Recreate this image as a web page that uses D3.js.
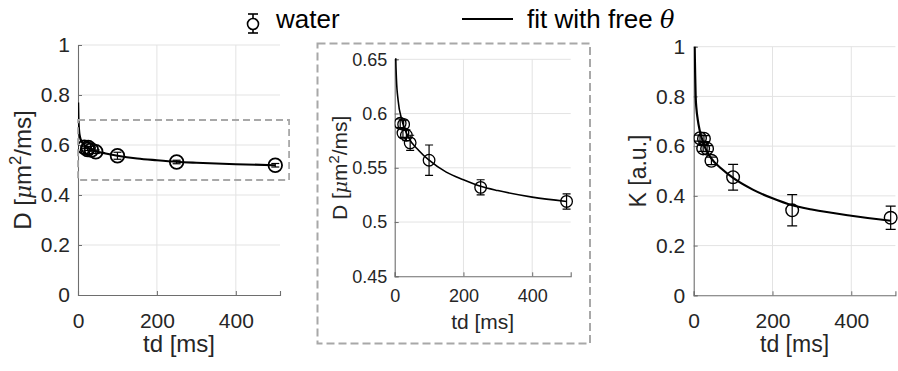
<!DOCTYPE html>
<html>
<head>
<meta charset="utf-8">
<script src="https://cdn.jsdelivr.net/npm/d3@7"></script>
<style>
  html, body { margin: 0; padding: 0; background: #fff; }
  svg { display: block; font-family: "Liberation Sans", Arial, sans-serif; }
</style>
</head>
<body>
<div id="chart"></div>
<script>
// measured diffusion time points (ms)
const td = [16, 24, 26, 34, 45, 100, 250, 500];
// water: diffusivity D and its error bars
const dValues = [0.591, 0.582, 0.590, 0.580, 0.573, 0.557, 0.532, 0.519];
const dErrors = [0.004, 0.004, 0.004, 0.005, 0.007, 0.014, 0.007, 0.007];
// water: kurtosis K and its error bars
const kValues = [0.632, 0.591, 0.630, 0.590, 0.541, 0.475, 0.342, 0.312];
const kErrors = [0.012, 0.012, 0.012, 0.012, 0.015, 0.052, 0.063, 0.047];

// fit with free theta, sampled off the figure
const fitTdD = [0.3, 1, 2, 3, 5, 10, 20, 40, 70, 100, 150, 200, 250, 300, 400, 500];
const fitD = [0.77, 0.71, 0.672, 0.652, 0.632, 0.612, 0.595, 0.578, 0.566, 0.557, 0.546, 0.539, 0.533, 0.529, 0.523, 0.519];
const fitTdK = [2.5, 3, 4, 5, 7, 10, 15, 20, 30, 45, 70, 100, 150, 200, 250, 300, 400, 500];
const fitK = [1.0, 0.95, 0.87, 0.80, 0.75, 0.71, 0.665, 0.635, 0.59, 0.55, 0.51, 0.472, 0.425, 0.39, 0.362, 0.345, 0.32, 0.30];

// zoom window drawn on the first panel
const zoomTd = [0, 535];
const zoomD = [0.46, 0.70];

const xTicks = [0, 200, 400];
const dTicksFull = [0, 0.2, 0.4, 0.6, 0.8, 1];
const dTicksZoom = [0.45, 0.5, 0.55, 0.6, 0.65];
const kTicks = [0, 0.2, 0.4, 0.6, 0.8, 1];

const legendLabels = ['water', 'fit with free '];

const W = 898, H = 371;
const ink = '#262626';
const axisGray = '#6e6e6e';
const gridGray = '#e3e3e3';

const svg = d3.select('#chart').append('svg')
  .attr('width', W)
  .attr('height', H);

const fmt = d => (d === 0 || d === 1) ? String(d) : String(+d.toFixed(2));

const panels = [
  {
    key: 'd-full', left: 78, right: 280, bottom: 295, top: 45,
    yDomain: [0, 1], yTicks: dTicksFull, vals: dValues, errs: dErrors,
    fitX: fitTdD, fitY: fitD, tickFont: 21, labelFont: 24,
    xPad: 18, yPad: 8, xLabelY: 352, yLabelX: 31, yLabel: 'D',
    r: 6.8, markerW: 1.8, lineW: 2.2, cap: 4
  },
  {
    key: 'd-zoom', left: 394.7, right: 570.7, bottom: 276.3, top: 59.3,
    yDomain: [0.45, 0.65], yTicks: dTicksZoom, vals: dValues, errs: dErrors,
    fitX: fitTdD, fitY: fitD, tickFont: 18, labelFont: 21,
    xPad: 13, yPad: 7.5, xLabelY: 329, yLabelX: 347, yLabel: 'D',
    r: 5.8, markerW: 1.3, lineW: 1.6, cap: 4
  },
  {
    key: 'k', left: 693.7, right: 895.4, bottom: 295.3, top: 46.7,
    yDomain: [0, 1], yTicks: kTicks, vals: kValues, errs: kErrors,
    fitX: fitTdK, fitY: fitK, tickFont: 21, labelFont: 23,
    xPad: 18, yPad: 8.5, xLabelY: 352, yLabelX: 646, yLabel: 'K',
    r: 6.3, markerW: 1.4, lineW: 2.2, cap: 5
  }
];

panels.forEach(p => {
  const x = d3.scaleLinear().domain([0, 512]).range([p.left, p.right]);
  const y = d3.scaleLinear().domain(p.yDomain).range([p.bottom, p.top]);
  const g = svg.append('g').attr('class', 'panel ' + p.key);

  // grid
  g.append('g').selectAll('line.gy')
    .data(p.yTicks.slice(1))
    .join('line')
    .attr('x1', p.left).attr('x2', p.right)
    .attr('y1', d => y(d)).attr('y2', d => y(d))
    .attr('stroke', gridGray).attr('stroke-width', 1);
  g.append('g').selectAll('line.gx')
    .data(xTicks.slice(1))
    .join('line')
    .attr('x1', d => x(d)).attr('x2', d => x(d))
    .attr('y1', p.top).attr('y2', p.bottom)
    .attr('stroke', gridGray).attr('stroke-width', 1);

  // axes
  const xAxis = g.append('g')
    .attr('transform', `translate(0,${p.bottom})`)
    .call(d3.axisBottom(x).tickValues(xTicks).tickFormat(fmt).tickSize(-4).tickPadding(p.xPad));
  const yAxis = g.append('g')
    .attr('transform', `translate(${p.left},0)`)
    .call(d3.axisLeft(y).tickValues(p.yTicks).tickFormat(fmt).tickSize(-4).tickPadding(p.yPad));
  [xAxis, yAxis].forEach(a => {
    a.attr('font-family', null).attr('font-size', p.tickFont);
    a.select('.domain').attr('stroke', axisGray).attr('stroke-width', 1.1);
    a.selectAll('.tick line').attr('stroke', axisGray);
    a.selectAll('.tick text').attr('fill', ink);
  });

  // clip data area
  const clipId = 'clip-' + p.key;
  svg.append('clipPath').attr('id', clipId)
    .append('rect')
    .attr('x', p.left).attr('y', p.top - 1)
    .attr('width', p.right - p.left + 10).attr('height', p.bottom - p.top + 1);

  const plot = g.append('g').attr('clip-path', `url(#${clipId})`);

  const line = d3.line()
    .x((d, i) => x(p.fitX[i]))
    .y(d => y(d))
    .curve(d3.curveMonotoneX);
  plot.append('path')
    .datum(p.fitY)
    .attr('d', line)
    .attr('fill', 'none')
    .attr('stroke', '#000')
    .attr('stroke-width', p.lineW);

  const pts = td.map((t, i) => ({ t, v: p.vals[i], e: p.errs[i] }));
  const eb = plot.append('g').selectAll('g')
    .data(pts)
    .join('g')
    .attr('stroke', '#000')
    .attr('stroke-width', 1.2);
  eb.append('line')
    .attr('x1', d => x(d.t)).attr('x2', d => x(d.t))
    .attr('y1', d => y(d.v - d.e)).attr('y2', d => y(d.v + d.e));
  eb.append('line')
    .attr('x1', d => x(d.t) - p.cap).attr('x2', d => x(d.t) + p.cap)
    .attr('y1', d => y(d.v - d.e)).attr('y2', d => y(d.v - d.e));
  eb.append('line')
    .attr('x1', d => x(d.t) - p.cap).attr('x2', d => x(d.t) + p.cap)
    .attr('y1', d => y(d.v + d.e)).attr('y2', d => y(d.v + d.e));

  plot.append('g').selectAll('circle')
    .data(pts)
    .join('circle')
    .attr('cx', d => x(d.t))
    .attr('cy', d => y(d.v))
    .attr('r', p.r)
    .attr('fill', 'none')
    .attr('stroke', '#000')
    .attr('stroke-width', p.markerW);

  // x label
  g.append('text')
    .attr('x', (p.left + Math.min(p.right, x(512))) / 2)
    .attr('y', p.xLabelY)
    .attr('text-anchor', 'middle')
    .attr('font-size', p.labelFont)
    .attr('fill', ink)
    .text('td [ms]');

  // y label
  const yl = g.append('text')
    .attr('transform', `translate(${p.yLabelX},${(p.top + p.bottom) / 2}) rotate(-90)`)
    .attr('text-anchor', 'middle')
    .attr('font-size', p.labelFont)
    .attr('fill', ink);
  if (p.yLabel === 'D') {
    yl.append('tspan').text('D [');
    yl.append('tspan').attr('font-style', 'italic').attr('font-family', '"DejaVu Serif", serif').attr('font-size', p.labelFont * 0.9).text('\u03bc');
    yl.append('tspan').text('m');
    yl.append('tspan').attr('font-size', p.labelFont * 0.7).attr('dy', -p.labelFont * 0.4).text('2');
    yl.append('tspan').attr('dy', p.labelFont * 0.4).text('/ms]');
  } else {
    yl.text('K [a.u.]');
  }

  if (p.key === 'd-full') {
    // dashed rectangle showing the zoomed region
    g.append('rect')
      .attr('x', x(zoomTd[0]))
      .attr('y', y(zoomD[1]))
      .attr('width', x(zoomTd[1]) - x(zoomTd[0]))
      .attr('height', y(zoomD[0]) - y(zoomD[1]))
      .attr('fill', 'none')
      .attr('stroke', '#a8a8a8')
      .attr('stroke-width', 1.8)
      .attr('stroke-dasharray', '7,4');
  }
});

// dashed frame around the zoomed panel
svg.append('rect')
  .attr('x', 317.5).attr('y', 43.5)
  .attr('width', 272.5).attr('height', 300)
  .attr('fill', 'none')
  .attr('stroke', '#a8a8a8')
  .attr('stroke-width', 2)
  .attr('stroke-dasharray', '8,4');

// legend
const leg = svg.append('g').attr('class', 'legend');
const lg1 = leg.append('g').attr('stroke', '#000').attr('stroke-width', 1.6);
lg1.append('line').attr('x1', 253).attr('x2', 253).attr('y1', 14).attr('y2', 33);
lg1.append('line').attr('x1', 248).attr('x2', 258).attr('y1', 14).attr('y2', 14);
lg1.append('line').attr('x1', 248).attr('x2', 258).attr('y1', 33).attr('y2', 33);
lg1.append('circle').attr('cx', 253).attr('cy', 24).attr('r', 5.5).attr('fill', '#fff');
leg.append('text')
  .attr('x', 276).attr('y', 28)
  .attr('font-size', 26)
  .attr('fill', '#000')
  .text(legendLabels[0]);

leg.append('line')
  .attr('x1', 462).attr('x2', 513)
  .attr('y1', 19).attr('y2', 19)
  .attr('stroke', '#000').attr('stroke-width', 2);
const t2 = leg.append('text')
  .attr('x', 527).attr('y', 28)
  .attr('font-size', 26)
  .attr('fill', '#000')
  .attr('xml:space', 'preserve');
t2.append('tspan').text(legendLabels[1]);
t2.append('tspan')
  .attr('font-family', '"DejaVu Serif", serif')
  .attr('font-style', 'italic')
  .attr('font-size', 24)
  .text('\u03b8');
</script>
</body>
</html>
